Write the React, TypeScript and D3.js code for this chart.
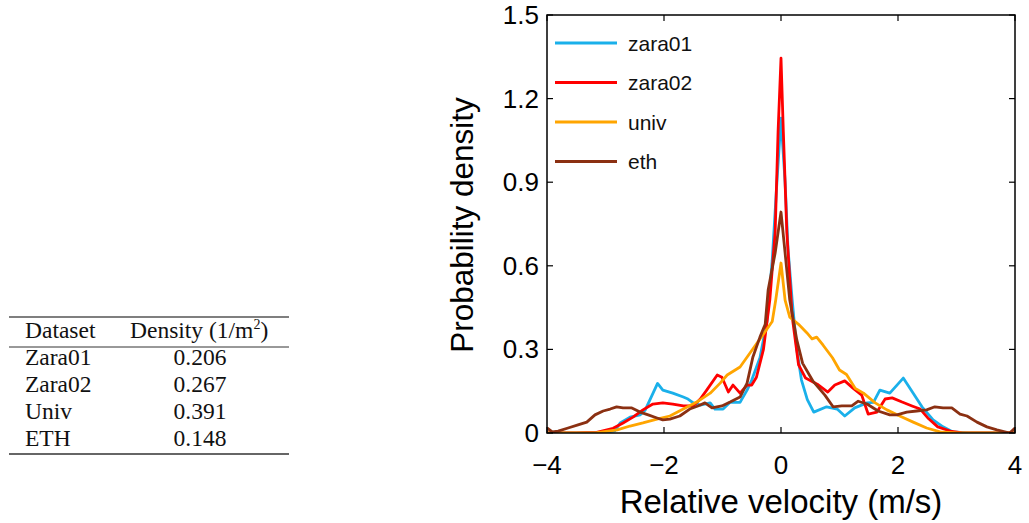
import React from "react";
import * as d3 from "d3";

type Pt = [number, number];

const seriesNames = ["zara01", "zara02", "univ", "eth"];
const seriesColors = ["#1ab0ea", "#ff0000", "#ffa500", "#8b3012"];

const zara01: Pt[] = [[-4,0],[-3.5,0],[-3.0,0.002],[-2.84,0.008],[-2.75,0.036],[-2.58,0.057],[-2.41,0.065],[-2.32,0.083],[-2.11,0.178],[-2.02,0.154],[-1.85,0.143],[-1.67,0.129],[-1.59,0.122],[-1.5,0.108],[-1.38,0.1],[-1.21,0.108],[-1.13,0.086],[-0.99,0.086],[-0.87,0.11],[-0.7,0.11],[-0.58,0.154],[-0.5,0.19],[-0.36,0.27],[-0.24,0.4],[-0.15,0.62],[-0.07,0.9],[0,1.13],[0.07,0.9],[0.12,0.66],[0.19,0.48],[0.27,0.3],[0.35,0.19],[0.45,0.12],[0.56,0.075],[0.78,0.094],[0.96,0.086],[1.09,0.061],[1.26,0.09],[1.47,0.108],[1.58,0.11],[1.69,0.154],[1.86,0.143],[2.09,0.197],[2.26,0.143],[2.41,0.094],[2.6,0.047],[2.77,0.022],[2.94,0.004],[3.2,0],[4,0]];

const zara02: Pt[] = [[-4,0],[-3.5,0],[-3.15,0.002],[-2.87,0.017],[-2.7,0.036],[-2.53,0.057],[-2.36,0.083],[-2.19,0.104],[-2.02,0.108],[-1.85,0.104],[-1.67,0.097],[-1.5,0.097],[-1.38,0.122],[-1.27,0.154],[-1.09,0.208],[-1.01,0.2],[-0.9,0.147],[-0.82,0.172],[-0.7,0.143],[-0.58,0.172],[-0.5,0.172],[-0.42,0.2],[-0.3,0.3],[-0.19,0.48],[-0.1,0.72],[-0.05,1.08],[0,1.345],[0.04,1.08],[0.1,0.72],[0.19,0.42],[0.3,0.245],[0.42,0.197],[0.62,0.175],[0.8,0.147],[0.92,0.172],[1.09,0.187],[1.23,0.161],[1.38,0.136],[1.49,0.068],[1.64,0.075],[1.78,0.122],[1.9,0.126],[2.07,0.111],[2.24,0.097],[2.38,0.086],[2.51,0.054],[2.68,0.022],[2.89,0.007],[3.1,0],[4,0]];

const univ: Pt[] = [[-4,0],[-3.5,0],[-3.15,0.001],[-2.8,0.011],[-2.58,0.025],[-2.36,0.036],[-2.12,0.05],[-1.9,0.061],[-1.67,0.086],[-1.44,0.111],[-1.21,0.143],[-1.04,0.179],[-0.92,0.208],[-0.7,0.237],[-0.53,0.287],[-0.31,0.352],[-0.15,0.4],[-0.09,0.477],[0,0.61],[0.07,0.477],[0.15,0.416],[0.3,0.39],[0.44,0.36],[0.53,0.338],[0.61,0.344],[0.72,0.315],[0.88,0.27],[1.0,0.226],[1.12,0.21],[1.27,0.16],[1.41,0.143],[1.61,0.108],[1.81,0.083],[2.03,0.061],[2.26,0.039],[2.49,0.018],[2.72,0.004],[3.0,0],[4,0]];

const eth: Pt[] = [[-4,0.018],[-3.91,0.004],[-3.81,0.007],[-3.64,0.018],[-3.47,0.029],[-3.32,0.039],[-3.18,0.065],[-3.04,0.079],[-2.92,0.086],[-2.81,0.094],[-2.7,0.09],[-2.55,0.09],[-2.41,0.075],[-2.27,0.065],[-2.12,0.054],[-2.02,0.047],[-1.9,0.05],[-1.73,0.061],[-1.56,0.086],[-1.42,0.097],[-1.3,0.108],[-1.18,0.09],[-1.01,0.097],[-0.87,0.111],[-0.7,0.129],[-0.58,0.179],[-0.48,0.273],[-0.36,0.344],[-0.27,0.39],[-0.22,0.513],[-0.1,0.646],[0,0.793],[0.07,0.646],[0.15,0.477],[0.27,0.334],[0.37,0.25],[0.55,0.185],[0.75,0.136],[0.89,0.094],[1.04,0.097],[1.21,0.097],[1.32,0.114],[1.47,0.104],[1.66,0.079],[1.86,0.065],[1.98,0.065],[2.15,0.075],[2.32,0.079],[2.49,0.083],[2.63,0.094],[2.77,0.09],[2.92,0.09],[3.06,0.068],[3.18,0.061],[3.35,0.039],[3.52,0.022],[3.69,0.011],[3.91,0],[4,0.018]];

const seriesData = [zara01, zara02, univ, eth];

const xTicks = [-4, -2, 0, 2, 4];
const yTicks = [0, 0.3, 0.6, 0.9, 1.2, 1.5];

const tableDatasets = ["Zara01", "Zara02", "Univ", "ETH"];
const tableDensities = ["0.206", "0.267", "0.391", "0.148"];

const W = 1029;
const H = 523;
const plot = { left: 547, right: 1015, top: 15, bottom: 433 };

export default function App() {
  const x = d3.scaleLinear().domain([-4, 4]).range([plot.left, plot.right]);
  const y = d3.scaleLinear().domain([0, 1.5]).range([plot.bottom, plot.top]);
  const line = d3.line<Pt>().x((d) => x(d[0])).y((d) => y(d[1]));
  const sans = "'Liberation Sans', Arial, Helvetica, sans-serif";
  const serif = "'Liberation Serif', 'Times New Roman', serif";
  const tickLen = 6;
  const rowY = (i: number) => 365 + i * 27;

  return (
    <div style={{ position: "absolute", left: 0, top: 0 }}>
      <svg width={W} height={H} style={{ display: "block", background: "#fff" }}>
        <defs>
          <clipPath id="plotclip">
            <rect x={plot.left} y={plot.top} width={plot.right - plot.left} height={plot.bottom - plot.top} />
          </clipPath>
        </defs>

        {/* Table */}
        <g fontFamily={serif} fontSize={23.5} fill="#111">
          <line x1={9} x2={289} y1={317} y2={317} stroke="#555" strokeWidth={1.6} />
          <line x1={9} x2={289} y1={347} y2={347} stroke="#333" strokeWidth={1} />
          <line x1={9} x2={289} y1={454} y2={454} stroke="#666" strokeWidth={2} />
          <text x={25} y={338}>Dataset</text>
          <text x={130} y={338}>
            Density (1/m<tspan fontSize={14} dy={-9}>2</tspan><tspan dy={9}>)</tspan>
          </text>
          {tableDatasets.map((d, i) => (
            <text key={d} x={25} y={rowY(i)}>{d}</text>
          ))}
          {tableDensities.map((d, i) => (
            <text key={i} x={200} y={rowY(i)} textAnchor="middle">{d}</text>
          ))}
        </g>

        {/* Series */}
        <g clipPath="url(#plotclip)">
          {seriesData.map((s, i) => (
            <path key={seriesNames[i]} d={line(s) || ""} fill="none" stroke={seriesColors[i]} strokeWidth={2.8} strokeLinejoin="round" />
          ))}
        </g>

        {/* Frame */}
        <rect x={plot.left} y={plot.top} width={plot.right - plot.left} height={plot.bottom - plot.top} fill="none" stroke="#000" strokeWidth={1.5} />

        {/* Ticks */}
        {xTicks.map((t) => (
          <g key={"x" + t}>
            <line x1={x(t)} x2={x(t)} y1={plot.bottom} y2={plot.bottom - tickLen} stroke="#000" strokeWidth={1.2} />
            <line x1={x(t)} x2={x(t)} y1={plot.top} y2={plot.top + tickLen} stroke="#000" strokeWidth={1.2} />
            <text x={x(t)} y={plot.bottom + 41} textAnchor="middle" fontFamily={sans} fontSize={26} fill="#000">
              {t < 0 ? "\u2212" + Math.abs(t) : String(t)}
            </text>
          </g>
        ))}
        {yTicks.map((t) => (
          <g key={"y" + t}>
            <line x1={plot.left} x2={plot.left + tickLen} y1={y(t)} y2={y(t)} stroke="#000" strokeWidth={1.2} />
            <line x1={plot.right} x2={plot.right - tickLen} y1={y(t)} y2={y(t)} stroke="#000" strokeWidth={1.2} />
            <text x={plot.left - 8} y={y(t) + 9} textAnchor="end" fontFamily={sans} fontSize={26} fill="#000">
              {t === 0 ? "0" : t.toFixed(1)}
            </text>
          </g>
        ))}

        {/* Axis labels */}
        <text x={x(0)} y={513} textAnchor="middle" fontFamily={sans} fontSize={33} fill="#000">
          Relative velocity (m/s)
        </text>
        <text transform={`translate(473, ${225}) rotate(-90)`} textAnchor="middle" fontFamily={sans} fontSize={31.5} fill="#000">
          Probability density
        </text>

        {/* Legend */}
        {seriesNames.map((n, i) => {
          const ly = 43 + i * 39.5;
          return (
            <g key={"leg" + n}>
              <line x1={555} x2={617} y1={ly} y2={ly} stroke={seriesColors[i]} strokeWidth={3} />
              <text x={628} y={ly + 7.5} fontFamily={sans} fontSize={21} fill="#111">{n}</text>
            </g>
          );
        })}
      </svg>
    </div>
  );
}
